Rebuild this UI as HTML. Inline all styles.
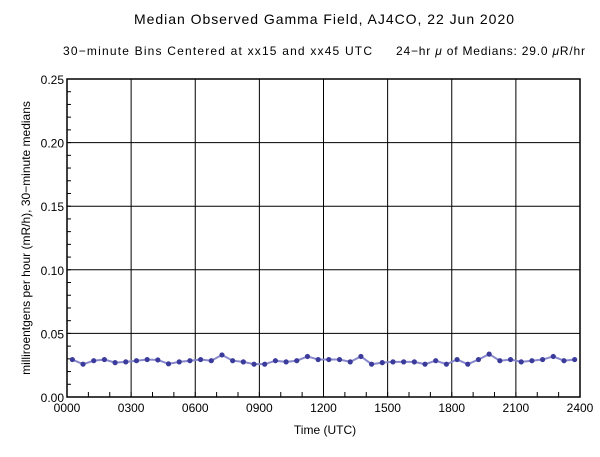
<!DOCTYPE html><html><head><style>body{margin:0;background:#fff}svg{display:block}text{font-family:"Liberation Sans",sans-serif;fill:#000}</style></head><body>
<svg width="600" height="457" xmlns="http://www.w3.org/2000/svg">
<text x="134" y="24" font-size="14" textLength="380">Median Observed Gamma Field, AJ4CO, 22 Jun 2020</text>
<text x="63" y="55" font-size="12" textLength="309">30−minute Bins Centered at xx15 and xx45 UTC</text>
<text x="396" y="55" font-size="12" textLength="189">24−hr <tspan font-style="italic">μ</tspan> of Medians: 29.0 <tspan font-style="italic">μ</tspan>R/hr</text>
<g id="g"></g>
<text x="325" y="434" font-size="12" text-anchor="middle">Time (UTC)</text>
<text transform="translate(30,238) rotate(-90)" font-size="12" text-anchor="middle">milliroentgens per hour (mR/h), 30−minute medians</text>
</svg>
<script>
const L=67,R=580,T=79,B=397,ns="http://www.w3.org/2000/svg",g=document.getElementById('g');
function el(n,a,t){const e=document.createElementNS(ns,n);for(const k in a)e.setAttribute(k,a[k]);if(t)e.textContent=t;g.appendChild(e);return e;}
const dx=(R-L)/8;
for(let i=0;i<=8;i++){const x=L+i*dx;el('line',{x1:x,x2:x,y1:T,y2:B,stroke:'#000','stroke-width':1});
el('text',{x:x,y:B+15,'font-size':12,'text-anchor':'middle'},String(i*300).padStart(4,'0'));}
for(let i=0;i<24;i++){const x=L+i*dx/3;el('line',{x1:x,x2:x,y1:B,y2:B-5,stroke:'#000'});}
const dy=(B-T)/5;
for(let i=0;i<=5;i++){const y=B-i*dy;el('line',{x1:L,x2:R,y1:y,y2:y,stroke:'#000'});
el('text',{x:L-3,y:y+5,'font-size':12,'text-anchor':'end'},(i*0.05).toFixed(2));}
for(let i=0;i<25;i++){const y=B-i*dy/5;el('line',{x1:L,x2:L+4,y1:y,y2:y,stroke:'#000'});}
el('rect',{x:L,y:T,width:R-L,height:B-T,fill:'none',stroke:'#000','stroke-width':1.5});
const v=[61,73,64,61,69,67,64,61,62,72,67,64,61,64,49,64,67,73,73,64,67,64,53,61,61,61,67,53,73,69,67,67,67,73,64,73,61,73,61,47,64,61,67,64,61,53,64,61];
const pts=v.map((y,i)=>[L+(i+0.5)*dx/6,336+y/2.59]);
el('polyline',{points:pts.map(p=>p.join(',')).join(' '),fill:'none',stroke:'#8888cc','stroke-width':2});
pts.forEach(p=>el('circle',{cx:p[0],cy:p[1],r:2.6,fill:'#3b3b9b'}));
</script>
</body></html>
